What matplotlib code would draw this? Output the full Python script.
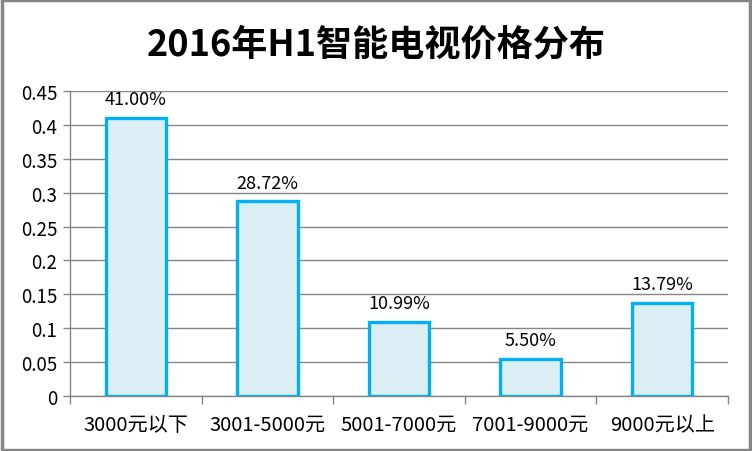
import matplotlib
matplotlib.use("Agg")
import matplotlib.pyplot as plt
from matplotlib.patches import Rectangle
import numpy as np

plt.rcParams['font.family'] = ['Noto Sans CJK SC', 'DejaVu Sans']

categories = ["3000元以下", "3001-5000元", "5001-7000元", "7001-9000元", "9000元以上"]
values = [0.41, 0.2872, 0.1099, 0.055, 0.1379]
labels = ["41.00%", "28.72%", "10.99%", "5.50%", "13.79%"]
yticks = [0, 0.05, 0.1, 0.15, 0.2, 0.25, 0.3, 0.35, 0.4, 0.45]
ytick_labels = ["0", "0.05", "0.1", "0.15", "0.2", "0.25", "0.3", "0.35", "0.4", "0.45"]
title = "2016年H1智能电视价格分布"

fig = plt.figure(figsize=(7.52, 4.52), dpi=100)
ax = fig.add_axes([70/752, 1-397/452, 658/752, (397-92)/452])

x = np.arange(len(categories))
ax.bar(x, values, width=0.46, color="#DAEEF3", edgecolor="#00B0F0", linewidth=2.4, zorder=3)
for xi, v, lab in zip(x, values, labels):
    ax.annotate(lab, (xi, v), xytext=(0, 7), textcoords="offset points",
                ha="center", va="bottom", fontsize=13, color="#000000")

ax.set_xlim(-0.5, len(categories) - 0.5)
ax.set_ylim(0, 0.45)
ax.set_yticks(yticks)
ax.set_yticklabels(ytick_labels, fontsize=13.5)
ax.set_xticks(x)
ax.set_xticklabels(categories, fontsize=14.5)
ax.tick_params(axis='x', length=0, pad=13)
ax.set_xticks(np.arange(-0.5, len(categories)), minor=True)
ax.tick_params(axis='x', which='minor', length=6, color="#868686", width=1)
ax.tick_params(axis='y', length=5, color="#868686", width=1, direction='out', pad=4)
ax.yaxis.grid(True, color="#868686", linewidth=1)
ax.set_axisbelow(True)
for s in ["top", "right"]:
    ax.spines[s].set_visible(False)
for s in ["left", "bottom"]:
    ax.spines[s].set_color("#868686")
    ax.spines[s].set_linewidth(1)

fig.text(0.5, 1-45/452, title, ha="center", va="center", fontsize=26, fontweight="bold")

fig.patches.append(Rectangle((0.002, 0.003), 0.996, 0.994, transform=fig.transFigure,
                             fill=False, edgecolor="#868686", linewidth=2.5))

fig.savefig("out.png", dpi=100)
